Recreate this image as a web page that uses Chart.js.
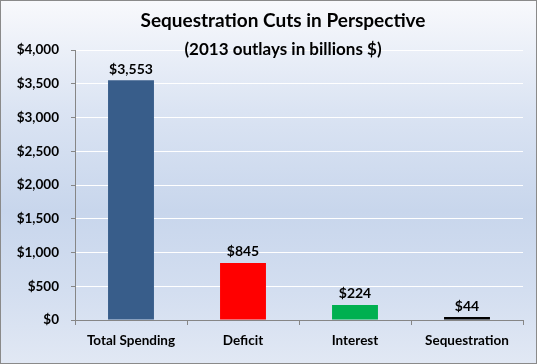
<!DOCTYPE html>
<html>
<head>
<meta charset="utf-8">
<script src="https://cdn.jsdelivr.net/npm/chart.js@4"></script>
<style>
  html, body { margin: 0; padding: 0; background: #fff; }
  #wrap {
    position: relative;
    width: 535px;
    height: 362px;
    border: 1px solid #8a8a8a;
    background: linear-gradient(to bottom, #f8f9fc 0%, #dbe4f3 30%, #c8d6ec 58%, #d3def0 80%, #e1e8f4 100%);
  }
  canvas { display: block; }
</style>
</head>
<body>
<div id="wrap"><canvas id="chart" width="535" height="362"></canvas></div>
<script>
// Chart values
const categories = ['Total Spending', 'Deficit', 'Interest', 'Sequestration'];
const outlays = [3553, 845, 224, 44];
const barColors = ['#385d8a', '#ff0000', '#00b050', '#000000'];
const yTicks = [0, 500, 1000, 1500, 2000, 2500, 3000, 3500, 4000];

const titleText = 'Sequestration Cuts in Perspective';
const subtitleText = '(2013 outlays in billions $)';
const FONT = 'Lato, "Open Sans", sans-serif';

function dollars(v) {
    return '$' + v.toLocaleString('en-US');
}

// draws the two title lines and the values above the bars
const labelPlugin = {
    id: 'labels',
    afterDatasetsDraw(chart) {
        const ctx = chart.ctx;
        ctx.save();
        ctx.fillStyle = '#000';
        ctx.textAlign = 'center';
        ctx.textBaseline = 'middle';
        ctx.font = 'bold 19px ' + FONT;
        ctx.fillText(titleText, 282, 20);
        ctx.font = 'bold 17px ' + FONT;
        ctx.fillText(subtitleText, 282, 49);

        ctx.font = 'bold 14px ' + FONT;
        ctx.textBaseline = 'bottom';
        const meta = chart.getDatasetMeta(0);
        meta.data.forEach((bar, i) => {
            ctx.fillText(dollars(outlays[i]), bar.x, bar.y - 4);
        });
        ctx.restore();
    }
};

const ctx = document.getElementById('chart').getContext('2d');
new Chart(ctx, {
    type: 'bar',
    data: {
        labels: categories,
        datasets: [{
            data: outlays,
            backgroundColor: barColors,
            borderWidth: 0,
            barPercentage: 0.41,
            categoryPercentage: 1
        }]
    },
    options: {
        responsive: false,
        animation: false,
        layout: { padding: { left: 0, right: 13, top: 49, bottom: 0 } },
        plugins: {
            legend: { display: false },
            tooltip: { enabled: false }
        },
        scales: {
            y: {
                min: 0,
                max: 4000,
                afterBuildTicks(scale) {
                    scale.ticks = yTicks.map(v => ({ value: v }));
                },
                afterFit(scale) { scale.width = 74; },
                ticks: {
                    color: '#000',
                    font: { family: FONT, size: 13.5, weight: 'bold' },
                    padding: 12,
                    callback: v => dollars(v)
                },
                grid: {
                    color: '#ffffff',
                    lineWidth: 1,
                    tickColor: '#868686',
                    tickLength: 4
                },
                border: { color: '#868686' }
            },
            x: {
                afterFit(scale) { scale.height = 43; },
                ticks: {
                    color: '#000',
                    font: { family: FONT, size: 13.5, weight: 'bold' },
                    padding: 8
                },
                grid: {
                    drawOnChartArea: false,
                    tickColor: '#868686',
                    tickLength: 5,
                    offset: true
                },
                border: { color: '#868686' }
            }
        }
    },
    plugins: [labelPlugin]
});
</script>
</body>
</html>
